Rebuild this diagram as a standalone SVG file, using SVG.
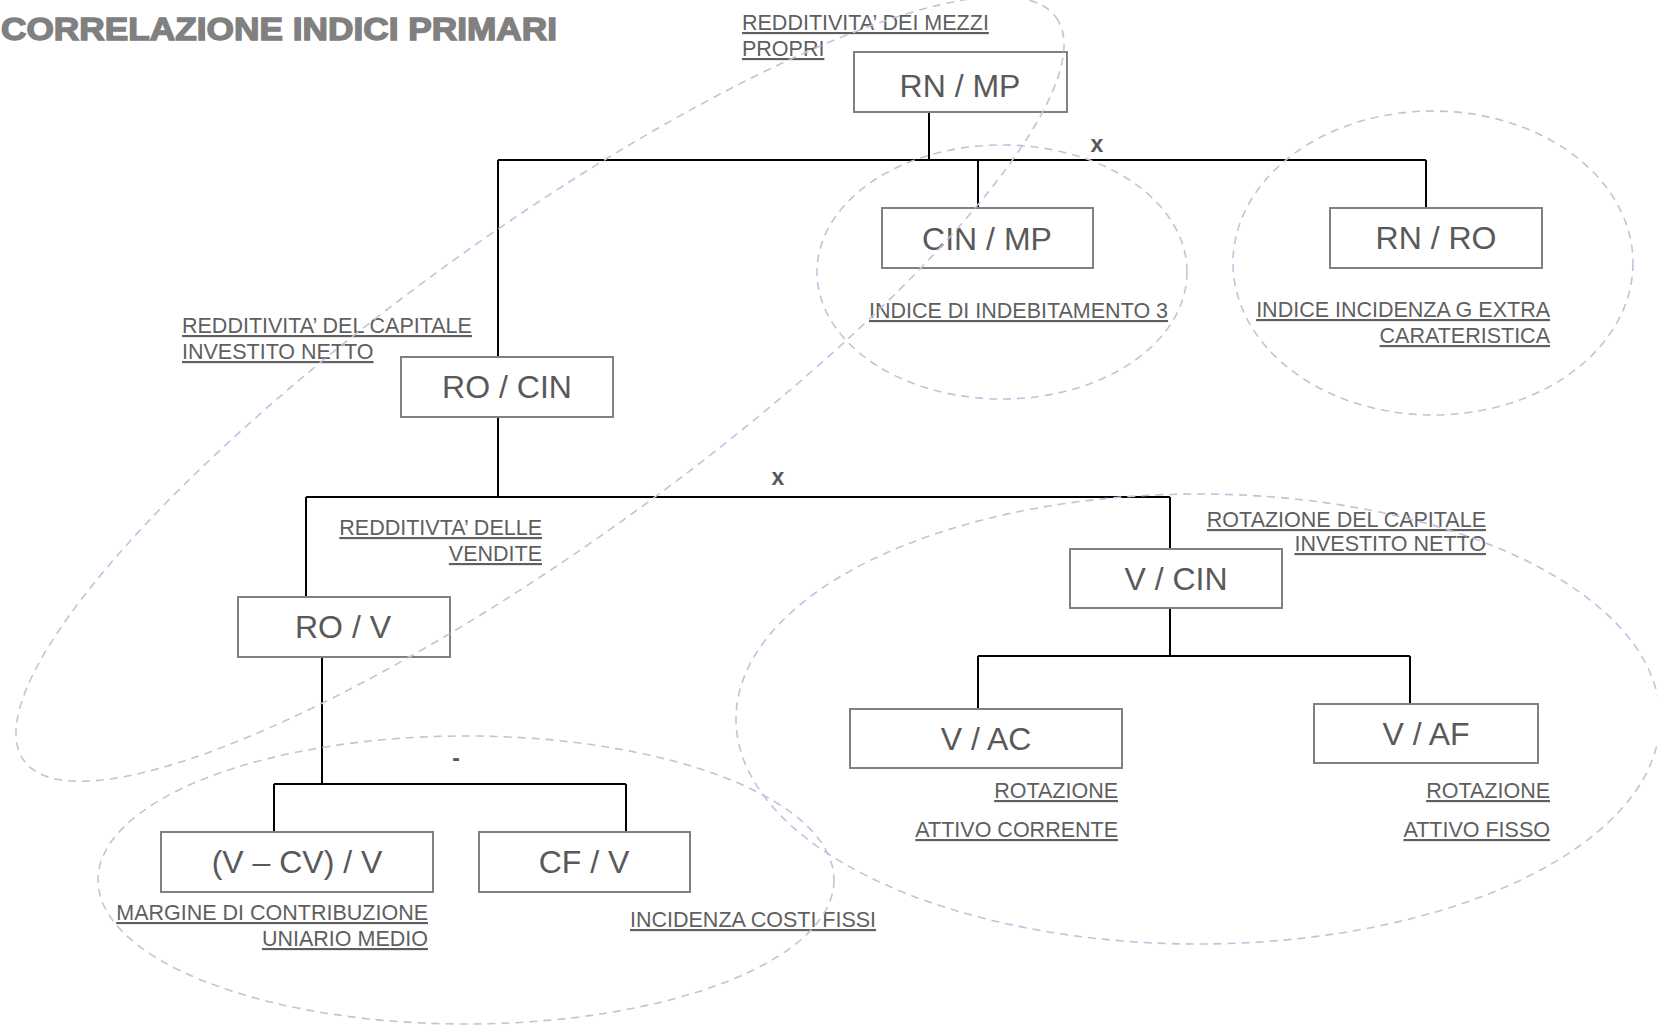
<svg xmlns="http://www.w3.org/2000/svg" width="1657" height="1025" viewBox="0 0 1657 1025">
  <style>
    .title { font-family: "Liberation Sans", Arial, sans-serif; font-weight: bold; font-size: 32px; fill: #808080; stroke: #808080; stroke-width: 1.4px; }
    .box { fill: #ffffff; stroke: #808080; stroke-width: 2; }
    .node-text { font-family: "Liberation Sans", Arial, sans-serif; font-size: 32px; fill: #595959; text-anchor: middle; }
    .label { font-family: "Liberation Sans", Arial, sans-serif; font-size: 21.5px; fill: #5f5f5f; text-decoration: underline; }
    .end { text-anchor: end; }
    .op { font-family: "Liberation Sans", Arial, sans-serif; font-weight: bold; font-size: 23px; fill: #595959; text-anchor: middle; }
    .conn { fill: none; stroke: #000000; stroke-width: 2; }
    .group-outline { fill: none; stroke: #c2c2de; stroke-width: 1.6; stroke-dasharray: 8 6; }
  </style>

  <rect x="0" y="0" width="1657" height="1025" fill="#ffffff"/>

  <text class="title" x="1" y="40" textLength="556" lengthAdjust="spacingAndGlyphs">CORRELAZIONE INDICI PRIMARI</text>

  <!-- tree connectors -->
  <g id="connectors" class="conn">
    <path d="M929,112 V160"/>
    <path d="M498,160 H1426"/>
    <path d="M978,160 V208"/>
    <path d="M1426,160 V208"/>
    <path d="M498,160 V357"/>
    <path d="M498,417 V497"/>
    <path d="M306,497 H1170"/>
    <path d="M306,497 V597"/>
    <path d="M1170,497 V549"/>
    <path d="M322,657 V784"/>
    <path d="M274,784 H626"/>
    <path d="M274,784 V832"/>
    <path d="M626,784 V832"/>
    <path d="M1170,608 V656"/>
    <path d="M978,656 H1410"/>
    <path d="M978,656 V709"/>
    <path d="M1410,656 V704"/>
  </g>

  <!-- operators between factors -->
  <text class="op" x="1097" y="152">x</text>
  <text class="op" x="778" y="485">x</text>
  <text class="op" x="456" y="766">-</text>

  <!-- ratio nodes -->
  <g id="rn-mp">
    <rect class="box" x="854" y="52" width="213" height="60"/>
    <text class="node-text" x="960" y="97">RN / MP</text>
  </g>
  <g id="cin-mp">
    <rect class="box" x="882" y="208" width="211" height="60"/>
    <text class="node-text" x="987" y="250">CIN / MP</text>
  </g>
  <g id="rn-ro">
    <rect class="box" x="1330" y="208" width="212" height="60"/>
    <text class="node-text" x="1436" y="249">RN / RO</text>
  </g>
  <g id="ro-cin">
    <rect class="box" x="401" y="357" width="212" height="60"/>
    <text class="node-text" x="507" y="398">RO / CIN</text>
  </g>
  <g id="ro-v">
    <rect class="box" x="238" y="597" width="212" height="60"/>
    <text class="node-text" x="343" y="638">RO / V</text>
  </g>
  <g id="v-cin">
    <rect class="box" x="1070" y="549" width="212" height="59"/>
    <text class="node-text" x="1176" y="590">V / CIN</text>
  </g>
  <g id="v-ac">
    <rect class="box" x="850" y="709" width="272" height="59"/>
    <text class="node-text" x="986" y="750">V / AC</text>
  </g>
  <g id="v-af">
    <rect class="box" x="1314" y="704" width="224" height="59"/>
    <text class="node-text" x="1426" y="745">V / AF</text>
  </g>
  <g id="mcu">
    <rect class="box" x="161" y="832" width="272" height="60"/>
    <text class="node-text" x="297" y="873">(V – CV) / V</text>
  </g>
  <g id="cf-v">
    <rect class="box" x="479" y="832" width="211" height="60"/>
    <text class="node-text" x="584" y="873">CF / V</text>
  </g>

  <!-- ratio names -->
  <g id="labels">
    <text class="label" x="742" y="30">REDDITIVITA’ DEI MEZZI</text>
    <text class="label" x="742" y="56">PROPRI</text>
    <text class="label" x="869" y="318">INDICE DI INDEBITAMENTO 3</text>
    <text class="label end" x="1550" y="317">INDICE INCIDENZA G EXTRA</text>
    <text class="label end" x="1550" y="343">CARATERISTICA</text>
    <text class="label" x="182" y="333">REDDITIVITA’ DEL CAPITALE</text>
    <text class="label" x="182" y="359">INVESTITO NETTO</text>
    <text class="label end" x="542" y="535">REDDITIVTA’ DELLE</text>
    <text class="label end" x="542" y="561">VENDITE</text>
    <text class="label end" x="1486" y="527">ROTAZIONE DEL CAPITALE</text>
    <text class="label end" x="1486" y="551">INVESTITO NETTO</text>
    <text class="label end" x="1118" y="798">ROTAZIONE</text>
    <text class="label end" x="1118" y="837">ATTIVO CORRENTE</text>
    <text class="label end" x="1550" y="798">ROTAZIONE</text>
    <text class="label end" x="1550" y="837">ATTIVO FISSO</text>
    <text class="label end" x="428" y="920">MARGINE DI CONTRIBUZIONE</text>
    <text class="label end" x="428" y="946">UNIARIO MEDIO</text>
    <text class="label" x="630" y="927">INCIDENZA COSTI FISSI</text>
  </g>

  <!-- dashed groupings -->
  <g id="groupings" class="group-outline">
    <ellipse cx="540" cy="389" rx="636" ry="155" transform="rotate(-35.75 540 389)"/>
    <ellipse cx="1002" cy="272" rx="185" ry="127"/>
    <ellipse cx="1433" cy="263" rx="200" ry="152"/>
    <ellipse cx="466" cy="880" rx="368" ry="144"/>
    <ellipse cx="1198" cy="719" rx="462" ry="225"/>
  </g>
</svg>
